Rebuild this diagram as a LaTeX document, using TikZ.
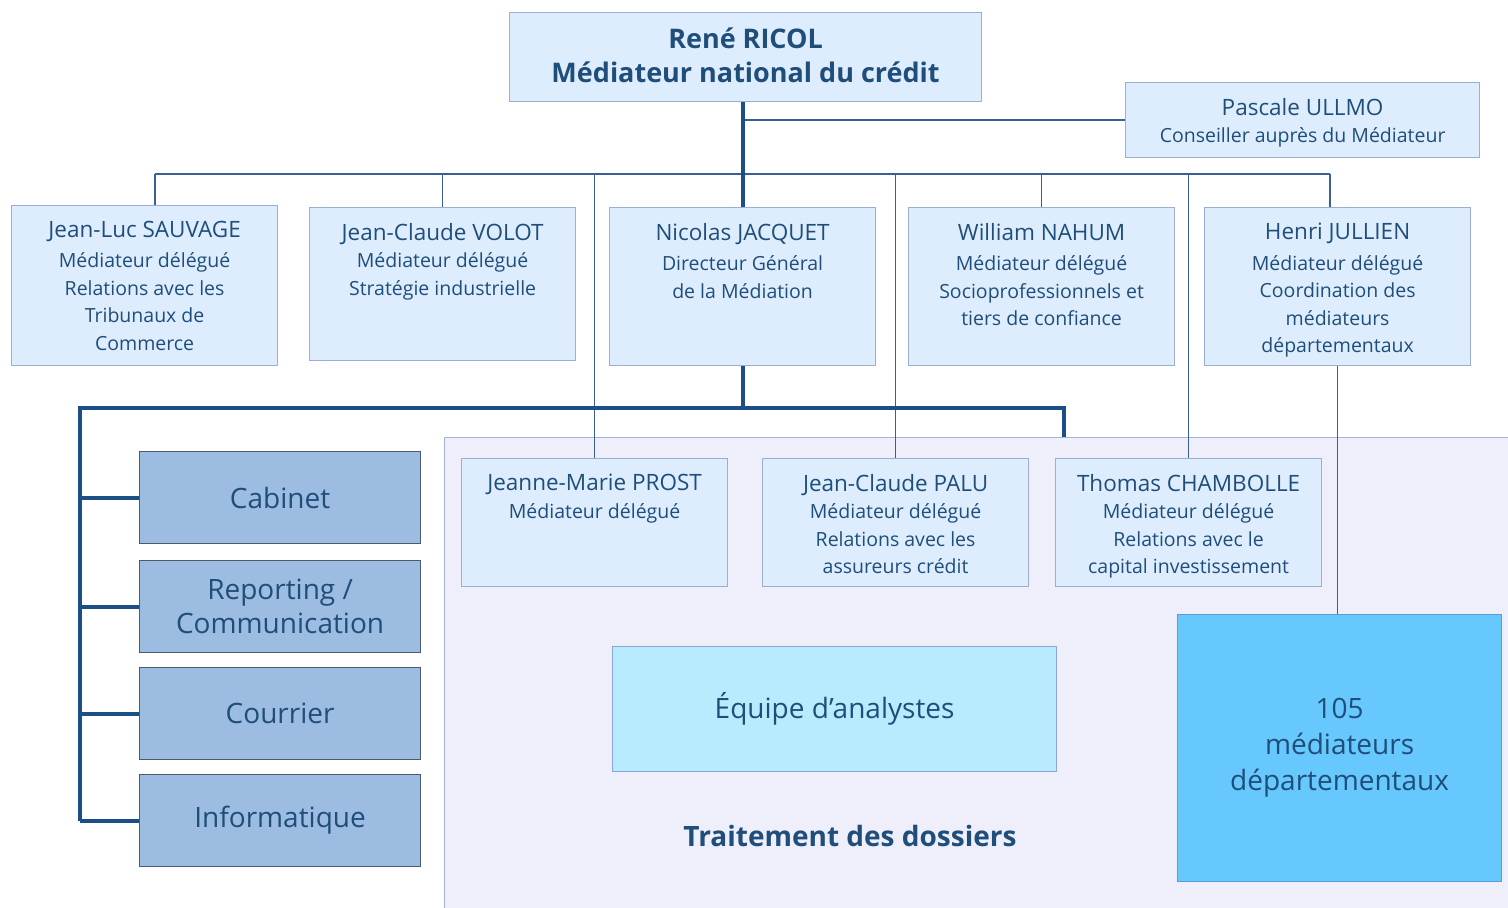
\documentclass[tikz,border=0pt]{standalone}
\usepackage{fontspec}
\setmainfont{Open Sans}
\usetikzlibrary{positioning}
\definecolor{boxfill}{HTML}{DDEDFD}
\definecolor{boxdraw}{HTML}{9DAED3}
\definecolor{txtblue}{HTML}{1F4E7A}
\definecolor{linethin}{HTML}{3A5F93}
\definecolor{linethick}{HTML}{1B4F86}
\definecolor{leftfill}{HTML}{9DBCE1}
\definecolor{leftdraw}{HTML}{4D5A6A}
\definecolor{lavender}{HTML}{EFEEFB}
\definecolor{lavdraw}{HTML}{A3B5D6}
\definecolor{equipefill}{HTML}{B8EBFE}
\definecolor{equipedraw}{HTML}{8BA5DB}
\definecolor{medfill}{HTML}{66C8FC}
\definecolor{meddraw}{HTML}{5B9BD8}
\newcommand{\fname}{\fontsize{22.5}{28}\selectfont}
\newcommand{\fsub}{\fontsize{19.5}{27.5}\selectfont}
\newcommand{\fbig}{\fontsize{28}{34}\selectfont}

\begin{document}
\begin{tikzpicture}[x=1pt, y=-1pt,
    pbox/.style={rectangle, draw=boxdraw, fill=boxfill, line width=1.2pt, minimum width=266pt, anchor=north west},
    txt/.style={align=center, inner sep=0pt, text=txtblue, font=\fsub},
    sbox/.style={rectangle, draw=leftdraw, fill=leftfill, line width=1.2pt, minimum width=281pt, minimum height=92pt, anchor=north west, align=center, text=txtblue, font=\fbig},
    thinline/.style={draw=linethin, line width=1.6pt},
    thickline/.style={draw=linethick, line width=4pt}
]
\useasboundingbox (0,0) rectangle (1508,908);

% zone traitement des dossiers
\node[rectangle, draw=lavdraw, fill=lavender, line width=1.2pt, minimum width=1070pt, minimum height=480pt, anchor=north west] (zone) at (444,437) {};

% tete
\node[pbox, minimum width=472pt, minimum height=89pt] (ricol) at (509,12) {};
\node[txt, font=\fontsize{27}{34}\selectfont\bfseries, below=16pt of ricol.north] (ricolT) {René RICOL\\Médiateur national du crédit};
\node[pbox, minimum width=354pt, minimum height=75pt] (ullmo) at (1125,82) {};
\node[txt, below=16pt of ullmo.north] (ullmoT) {{\fname Pascale ULLMO}\\Conseiller auprès du Médiateur};

% rang 2
\node[pbox, minimum height=160pt] (sauvage) at (11,205) {};
\node[pbox, minimum height=153pt] (volot) at (309,207) {};
\node[pbox, minimum height=158pt] (jacquet) at (609,207) {};
\node[pbox, minimum height=158pt] (nahum) at (908,207) {};
\node[pbox, minimum height=158pt] (jullien) at (1204,207) {};
\node[txt, below=16pt of sauvage.north] {{\fname Jean-Luc SAUVAGE}\\[3pt]Médiateur délégué\\Relations avec les\\Tribunaux de\\Commerce};
\node[txt, below=16pt of volot.north] {{\fname Jean-Claude VOLOT}\\Médiateur délégué\\Stratégie industrielle};
\node[txt, below=16pt of jacquet.north] {{\fname Nicolas JACQUET}\\[3pt]Directeur Général\\de la Médiation};
\node[txt, below=16pt of nahum.north] {{\fname William NAHUM}\\[3pt]Médiateur délégué\\Socioprofessionnels et\\tiers de confiance};
\node[txt, below=16pt of jullien.north] {{\fname Henri JULLIEN}\\[3pt]Médiateur délégué\\Coordination des\\médiateurs\\départementaux};

% rang 3
\node[pbox, minimum height=128pt] (prost) at (461,458) {};
\node[pbox, minimum height=128pt] (palu) at (762,458) {};
\node[pbox, minimum height=128pt] (chambolle) at (1055,458) {};
\node[txt, below=16pt of prost.north] {{\fname Jeanne-Marie PROST}\\Médiateur délégué};
\node[txt, below=16pt of palu.north] {{\fname Jean-Claude PALU}\\Médiateur délégué\\Relations avec les\\assureurs crédit};
\node[txt, below=16pt of chambolle.north] {{\fname Thomas CHAMBOLLE}\\Médiateur délégué\\Relations avec le\\capital investissement};

% services
\node[sbox] (cabinet) at (139,451) {Cabinet};
\node[sbox] (reporting) at (139,560) {Reporting /\\Communication};
\node[sbox] (courrier) at (139,667) {Courrier};
\node[sbox] (info) at (139,774) {Informatique};

\node[rectangle, draw=equipedraw, fill=equipefill, line width=1.2pt, minimum width=444pt, minimum height=125pt, anchor=north west, text=txtblue, font=\fbig] (equipe) at (612,646) {Équipe d’analystes};
\node[rectangle, draw=meddraw, fill=medfill, line width=1.2pt, minimum width=324pt, minimum height=267pt, anchor=north west, align=center, text=txtblue, font=\fontsize{28}{36}\selectfont] (deps) at (1177,614) {105\\médiateurs\\départementaux};
\node[txt, font=\fbig\bfseries] (dossiers) at (850,836) {Traitement des dossiers};

% liaisons
\coordinate (barL) at (155,174);
\coordinate (barR) at (1330,174);
\draw[thinline] (barL) -- (barR);
\draw[thinline] (barL) -- (barL |- sauvage.north);
\draw[thinline] (volot.north |- barL) -- (volot.north);
\draw[thinline] (prost.north |- barL) -- (prost.north);
\draw[thinline] (palu.north |- barL) -- (palu.north);
\draw[thinline] (nahum.north |- barL) -- (nahum.north);
\draw[thinline] (chambolle.north |- barL) -- (chambolle.north);
\draw[thinline] (barR) -- (barR |- jullien.north);
\draw[thinline] (jacquet.north |- ullmo.west) -- (ullmo.west);
\draw[thinline] (jullien.south) -- (jullien.south |- deps.north);
\draw[thickline] (jacquet.north |- ricol.south) -- (jacquet.north);

\coordinate (hub) at (80,408);
\draw[thickline] (jacquet.south) -- (jacquet.south |- hub);
\draw[thickline, line join=miter] (hub |- info.west) -- (hub) -- (1064,408) -- (1064,437);
\foreach \s in {cabinet, reporting, courrier, info}
  \draw[thickline] (hub |- \s.west) -- (\s.west);

\end{tikzpicture}
\end{document}
